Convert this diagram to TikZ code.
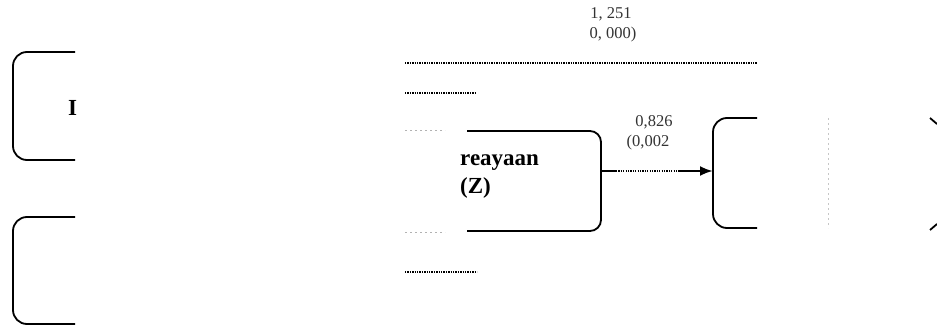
\documentclass[tikz,border=0pt]{standalone}
\usepackage{fontspec}
\setmainfont{Liberation Serif}
\usetikzlibrary{arrows.meta}
\begin{document}
\begin{tikzpicture}[x=1pt,y=-1pt,
  boxline/.style={line width=1.8pt,rounded corners=14pt,line cap=butt},
  dotline/.style={line width=2pt,dash pattern=on 1.3pt off 1.1pt},
  faintline/.style={line width=0.8pt,gray!60,dash pattern=on 2pt off 3pt},
  lbl/.style={font=\fontsize{16.5}{18}\selectfont,inner sep=0pt,text=black!80},
  big/.style={font=\fontsize{23}{26}\selectfont\bfseries,inner sep=0pt,anchor=west}]
\useasboundingbox (0,0) rectangle (937,326);
% left box 1
\draw[boxline] (75,52) -| (13,160) -- (75,160);
\node[big] (leftI) at (68,108) {I};
% left box 2
\draw[boxline] (75,217) -| (13,324) -- (75,324);
% dotted lines
\draw[dotline] (405,63) -- (757,63);
\draw[dotline,line width=1.5pt] (405,93) -- (475,93);
\draw[faintline] (405,130) -- (445,130);
\draw[faintline] (405,232) -- (445,232);
\draw[dotline,line width=1.7pt] (405,272) -- (477,272);
% middle box
\draw[boxline,rounded corners=11pt] (467,131) -| (601,231) -- (467,231);
\coordinate (mE) at (601,171);
\node[big] (mt1) at (460,163) {reayaan};
\node[big] (mt2) at (460,188) {(Z)};
% right box
\draw[boxline] (757,118) -| (713,228) -- (757,228);
\coordinate (rW) at (713,171);
% vertical faint line
\draw[faintline,gray!45] (828,118) -- (828,228);
% right edge box corners
\draw[line width=1.8pt] (930,118) -- (937,124);
\draw[line width=1.8pt] (930,230) -- (937,224);
% arrow
\coordinate (a1) at (616,171);
\coordinate (a2) at (680,171);
\draw[line width=2.6pt] (mE) -- (a1);
\draw[line width=1.6pt,dash pattern=on 1.2pt off 1.2pt] (a1) -- (a2);
\draw[line width=2.6pt,-{Latex[length=13pt,width=10pt]}] (a2) -- (rW);
% labels
\node[lbl] (l1) at (654,122) {0,826};
\node[lbl] (l2) at (648,143) {(0,002};
\node[lbl] (t1) at (611,14) {1, 251};
\node[lbl] (t2) at (613,35) {0, 000)};
\end{tikzpicture}
\end{document}
